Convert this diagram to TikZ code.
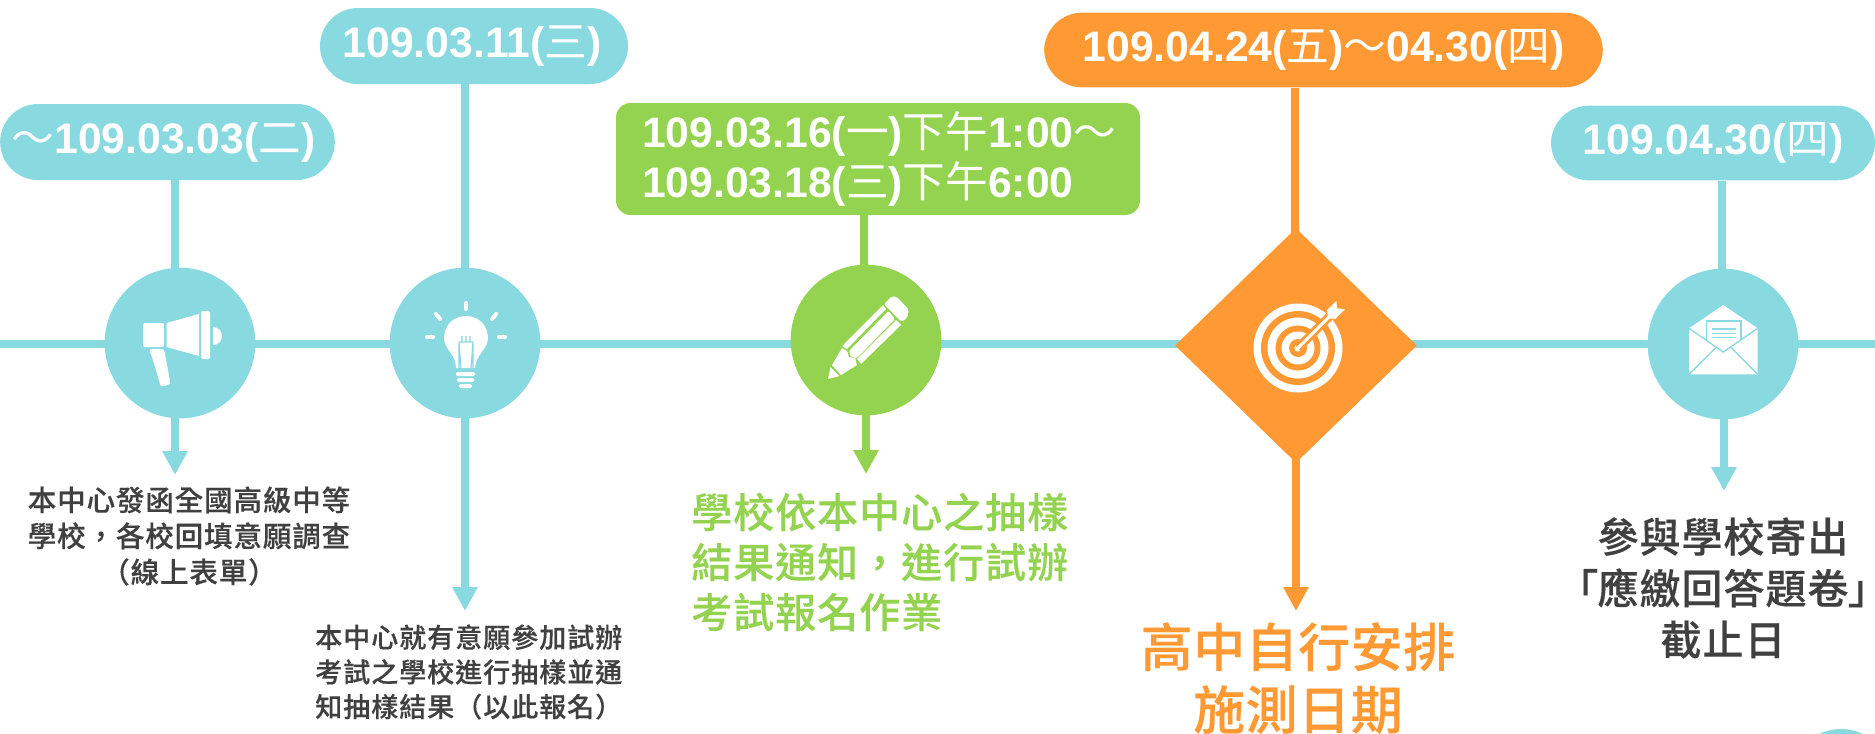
\documentclass[tikz,border=0pt]{standalone}
\usepackage{fontspec}
\usetikzlibrary{arrows.meta,shapes.geometric,backgrounds}
\setmainfont{Liberation Sans}
\newfontfamily\cjk{Noto Sans CJK TC}
\newfontfamily\cjkm[FakeBold=0.35]{Noto Sans CJK TC Medium}
\newcommand\cj[1]{{\cjk\mdseries #1}}
\newcommand\palt[1]{{\addfontfeature{RawFeature=+palt}#1}}
\definecolor{teal1}{HTML}{88D9E0}
\definecolor{green1}{HTML}{94D350}
\definecolor{orange1}{HTML}{FF9933}
\definecolor{ink}{HTML}{404040}
\tikzset{
  pill/.style={fill=teal1,rounded corners=28.5pt,text=white,inner sep=0pt,font=\bfseries\fontsize{32}{38}\selectfont},
  dot/.style={circle,fill=#1,minimum size=113pt,inner sep=0pt},
  tline/.style={draw=#1,line width=6pt},
  tarrow/.style={draw=#1,line width=6pt,-{Triangle[length=18pt,width=18pt,fill=#1]}},
  bodytext/.style={inner sep=0pt,text=ink},
  icon/.style={fill=white,draw=none}
}
\begin{document}
\begin{tikzpicture}[x=0.75pt,y=-0.75pt]
\useasboundingbox (0,0) rectangle (1875,733);
\clip (0,0) rectangle (1875,733);
% free coordinates
\coordinate (lineL) at (0,344);
\coordinate (lineR) at (1875,344);
\coordinate (s1) at (175,142);
\coordinate (s1b) at (175,475);
\coordinate (s2) at (465,46);
\coordinate (s2e) at (465,611);
\coordinate (s3) at (864,160);
\coordinate (s3b) at (866,474);
\coordinate (s4) at (1295,50);
\coordinate (s4b) at (1296,611);
\coordinate (s5) at (1722,143);
\coordinate (s5b) at (1724,491);
% date labels
\node[pill,minimum width=251pt,minimum height=57pt] (p1) at (167.5,142) {\raisebox{-2.7pt}{\cj{～}109.03.03(\cj{二})}\hspace*{6pt}};
\node[pill,minimum width=231pt,minimum height=57pt] (p2) at (474,46) {\raisebox{-1pt}{109.03.11(\cj{三})}\hspace*{3pt}};
\node[pill,fill=green1,rounded corners=11pt,minimum height=84pt,text width=354pt,inner xsep=19.5pt,align=left] (p3) at (878,159) {\raisebox{-4pt}{109.03.16(\cj{一})\cj{下午}1:00\cj{～}}\\\raisebox{-4pt}{109.03.18(\cj{三})\cj{下午}6:00}};
\node[pill,fill=orange1,minimum width=419pt,minimum height=56pt] (p4) at (1323.5,50) {\raisebox{-2.7pt}{109.04.24(\cj{五})\cj{～}04.30(\cj{四})}};
\node[pill,minimum width=243pt,minimum height=56pt] (p5) at (1713,143) {\raisebox{-2.7pt}{109.04.30(\cj{四})}};
% milestones
\node[dot=teal1] (c1) at (180,343) {};
\node[dot=teal1] (c2) at (465,343) {};
\node[dot=green1] (c3) at (866,340) {};
\node[diamond,fill=orange1,aspect=1,minimum width=181.5pt,minimum height=176pt,inner sep=0pt] (d4) at (1296,345.5) {};
\node[dot=teal1] (c5) at (1723,344) {};
\fill[teal1] (1841,779) circle (50);
% timeline and connectors
\begin{scope}[on background layer]
\draw[tline=teal1] (lineL) -- (c1 |- lineL);
\draw[tline=teal1] (c1 |- lineL) -- (c2 |- lineL);
\draw[tline=teal1] (c2 |- lineL) -- (c3 |- lineL);
\draw[tline=teal1] (c3 |- lineL) -- (d4 |- lineL);
\draw[tline=teal1] (d4 |- lineL) -- (c5 |- lineL);
\draw[tline=teal1] (c5 |- lineL) -- (lineR);
\draw[tline=teal1] (p1.south -| s1) -- (c1 -| s1);
\draw[tarrow=teal1] (c1 -| s1b) -- (s1b);
\draw[tline=teal1] (p2.south -| s2) -- (c2 -| s2);
\draw[tarrow=teal1] (c2 -| s2e) -- (s2e);
\draw[tline=green1] (p3.south -| s3) -- (c3 -| s3);
\draw[tarrow=green1] (c3 -| s3b) -- (s3b);
\draw[tline=orange1] (p4.south -| s4) -- (d4 -| s4);
\draw[tarrow=orange1] (d4 -| s4b) -- (s4b);
\draw[tline=teal1] (p5.south -| s5) -- (c5 -| s5);
\draw[tarrow=teal1] (c5 -| s5b) -- (s5b);
\end{scope}
% texts
\node[bodytext,align=center,font=\cjkm\fontsize{21.4}{27}\selectfont\addfontfeature{LetterSpace=3}] (t1) at (189,536) {本中心發函全國高級中等\\學校，各校回填意願調查\\（線上表單）};
\node[bodytext,align=left,anchor=west,font=\cjkm\fontsize{20.25}{26}\selectfont\addfontfeature{LetterSpace=3.7}] (t2) at (315,672) {本中心就有意願參加試辦\\考試之學校進行抽樣並通\\知抽樣結果（以此報名）};
\node[bodytext,align=left,anchor=west,text=green1,font=\cjkm\fontsize{30.75}{37.5}\selectfont\addfontfeature{LetterSpace=2.4}] (t3) at (691,562) {學校依本中心之抽樣\\結果通知，進行試辦\\考試報名作業};
\node[bodytext,align=center,text=orange1,font=\cjkm\fontsize{39}{47}\selectfont\addfontfeature{LetterSpace=1}] (t4) at (1298,678) {高中自行安排\\施測日期};
\node[bodytext,align=center,font=\cjkm\fontsize{30.75}{38.6}\selectfont\addfontfeature{LetterSpace=2.4}] (t5) at (1723,588) {參與學校寄出\\\palt{「}應繳回答題卷\palt{」}\hspace*{4pt}\\截止日};
% megaphone
\fill[icon,rounded corners=1.5pt] (143,323) rectangle (164,347);
\fill[icon] (166.5,323) -- (199,314) -- (199,356) -- (166.5,347) -- cycle;
\fill[icon,rounded corners=1.5pt] (201,311) rectangle (210,359);
\fill[icon] (213,327) arc (-90:90:9) -- cycle;
\fill[icon,rounded corners=2pt] (149,349) -- (164,349) -- (170.6,384) -- (161,387) -- (153,360) -- cycle;
% bulb
\begin{scope}[line width=3pt,line cap=round]
\draw[white] (466,303) -- (466,309);
\draw[white] (436,314) -- (440,319);
\draw[white] (496,314) -- (492,319);
\draw[white] (427,337) -- (433,337);
\draw[white] (499,337) -- (505,337);
\end{scope}
\fill[icon] (466,316) .. controls (480,316) and (488,327) .. (488,338) .. controls (488,349) and (476,354) .. (475,368) -- (456,368) .. controls (456,354) and (444,349) .. (444,338) .. controls (444,327) and (452,316) .. (466,316) -- cycle;
\draw[teal1,line width=0.9pt] (459,369) -- (459,342) (473,369) -- (473,342) (459,342) -- (473,342) (459,342) -- (461,369) (473,342) -- (471,369) (462,342) -- (462,336) (466,342) -- (466,336) (470,342) -- (470,336);
\fill[icon,rounded corners=1pt] (456,372) rectangle (475,376);
\fill[icon,rounded corners=1pt] (457,378) rectangle (474,382);
\fill[icon,rounded corners=1pt] (459,384) rectangle (472,388);
% pencil
\fill[icon] (830.5,367) -- (839.5,376) -- (828,379) -- cycle;
\fill[icon] (832,365) -- (842,348) -- (847,351) -- (849,357) -- (855,358) -- (857,365) -- (841,375) -- cycle;
\fill[icon] (842,346) -- (883,305) -- (886,309) -- (847,349) -- cycle;
\fill[icon,rounded corners=1pt] (849,351) -- (888.6,311) -- (895,319) -- (857,358) -- (851,357) -- cycle;
\fill[icon] (857,359) -- (896,320) -- (901,325) -- (861,364) -- cycle;
\fill[icon,rounded corners=1.5pt] (884,304) -- (892,296) -- (897,297) -- (909,310) -- (907,318) -- (901.5,322) -- cycle;
% target
\fill[icon] (1298,348) circle (44.5);
\fill[orange1] (1298,348) circle (37);
\fill[icon] (1298,348) circle (30.5);
\fill[orange1] (1298,348) circle (22.5);
\fill[icon] (1298,348) circle (16.5);
\fill[orange1] (1298,348) circle (9);
\fill[icon] (1298,348) circle (3.6);
\draw[orange1,line width=6.5pt] (1298,348) -- (1338,308);
\draw[white,line width=2.2pt] (1298,348) -- (1334,312);
\fill[icon] (1327,310) -- (1336.4,301) -- (1337,308.3) -- (1345,309.3) -- (1335,319) -- (1328,318.3) -- cycle;
% envelope
\fill[icon] (1723.3,305) -- (1757.7,328.3) -- (1757.7,374.3) -- (1689,374.3) -- (1689,328.3) -- cycle;
\draw[teal1,line width=1pt] (1689,328.3) -- (1723.3,352) -- (1757.7,328.3);
\draw[teal1,line width=1pt] (1689,374.3) -- (1716,347.5) (1757.7,374.3) -- (1731,347.5);
\draw[teal1,line width=1.2pt] (1706.5,340) -- (1706.5,321) -- (1741,321) -- (1741,340);
\draw[teal1,line width=1.1pt] (1712,329) -- (1736,329) (1712,333.3) -- (1736,333.3) (1712,337.5) -- (1736,337.5);
\end{tikzpicture}
\end{document}
